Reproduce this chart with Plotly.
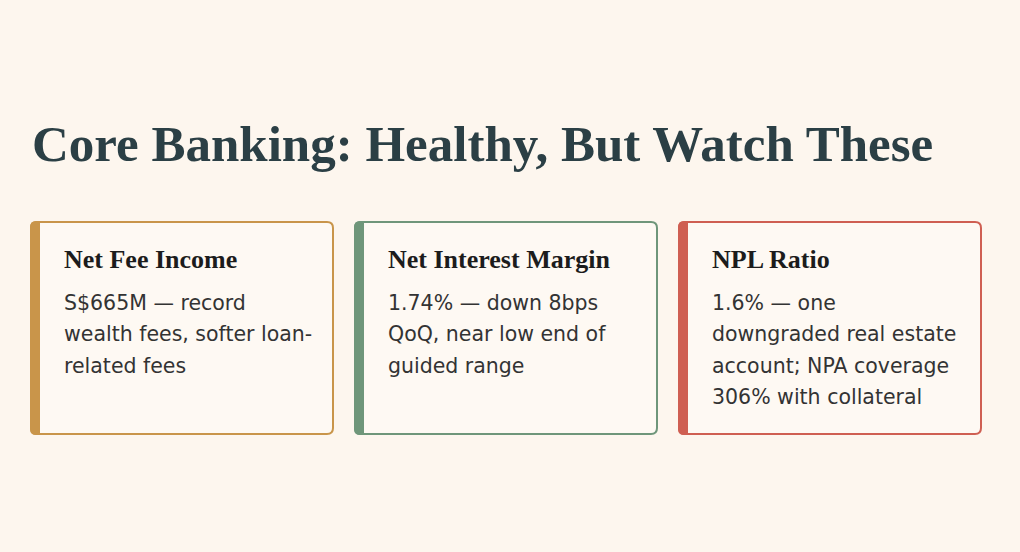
import plotly.graph_objects as go

title_text = "Core Banking: Healthy, But Watch These"
card_titles = ["Net Fee Income", "Net Interest Margin", "NPL Ratio"]
card_lines = [
    ["S$665M — record", "wealth fees, softer loan-", "related fees"],
    ["1.74% — down 8bps", "QoQ, near low end of", "guided range"],
    ["1.6% — one", "downgraded real estate", "account; NPA coverage", "306% with collateral"],
]
card_colors = ["#c9954a", "#6f967a", "#cf5f52"]

W, H = 1020, 552
BG = "#fdf6ee"
CARD_BG = "#fef9f3"

fig = go.Figure()

def rrect(x0, y0, x1, y1, r):
    return (f"M {x0+r},{y0} L {x1-r},{y0} Q {x1},{y0} {x1},{y0+r} "
            f"L {x1},{y1-r} Q {x1},{y1} {x1-r},{y1} L {x0+r},{y1} "
            f"Q {x0},{y1} {x0},{y1-r} L {x0},{y0+r} Q {x0},{y0} {x0+r},{y0} Z")

def leftbar(x0, y0, x1, y1, r):
    return (f"M {x0+r},{y0} L {x1},{y0} L {x1},{y1} L {x0+r},{y1} "
            f"Q {x0},{y1} {x0},{y1-r} L {x0},{y0+r} Q {x0},{y0} {x0+r},{y0} Z")

shapes = []
annotations = []
card_x0 = 30
card_w = 303
gap = 21
top, bottom = 222, 434
for i, (t, lines, c) in enumerate(zip(card_titles, card_lines, card_colors)):
    x0 = card_x0 + i * (card_w + gap)
    x1 = x0 + card_w
    shapes.append(dict(type="path", path=rrect(x0 + 1, top, x1, bottom, 6),
                       fillcolor=CARD_BG, line=dict(color=c, width=2),
                       xref="x", yref="y", layer="below"))
    shapes.append(dict(type="path", path=leftbar(x0, top - 1, x0 + 10, bottom + 1, 6),
                       fillcolor=c, line=dict(width=0),
                       xref="x", yref="y", layer="below"))
    annotations.append(dict(x=x0 + 32, y=259, text=f"<b>{t}</b>", showarrow=False,
                            xanchor="left", yanchor="middle", xref="x", yref="y",
                            font=dict(family="Liberation Serif", size=26, color="#1c1c1c")))
    for j, ln in enumerate(lines):
        annotations.append(dict(x=x0 + 32, y=303 + j * 31.3, text=ln, showarrow=False,
                                xanchor="left", yanchor="middle", xref="x", yref="y",
                                font=dict(family="DejaVu Sans", size=20.5, color="#333333")))

annotations.append(dict(x=30, y=144, text=f"<b>{title_text}</b>", showarrow=False,
                        xanchor="left", yanchor="middle", xref="x", yref="y",
                        font=dict(family="Liberation Serif", size=51, color="#2b3f45")))

fig.update_layout(
    width=W, height=H, margin=dict(l=0, r=0, t=0, b=0),
    paper_bgcolor=BG, plot_bgcolor=BG,
    xaxis=dict(range=[0, W], visible=False, fixedrange=True),
    yaxis=dict(range=[H, 0], visible=False, fixedrange=True),
    shapes=shapes, annotations=annotations, showlegend=False,
)
fig.write_html("out.html", config={"displayModeBar": False},
               post_script="document.body.style.margin='0';document.body.style.background='#fdf6ee';")
